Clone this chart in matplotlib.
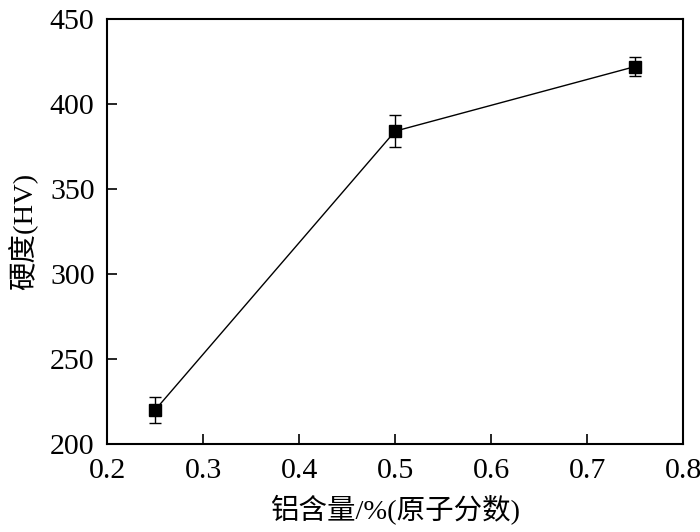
import matplotlib
matplotlib.use('Agg')
import matplotlib.pyplot as plt

plt.rcParams['font.family'] = ['Liberation Serif', 'Noto Sans CJK SC']
plt.rcParams['axes.unicode_minus'] = False

# data
al_content = [0.25, 0.50, 0.75]
hardness = [220, 384, 422]
hardness_err = [7.5, 9.5, 5.5]

x_ticks = [0.2, 0.3, 0.4, 0.5, 0.6, 0.7, 0.8]
y_ticks = [200, 250, 300, 350, 400, 450]

fig = plt.figure(figsize=(7, 5.32), dpi=100)
ax = fig.add_axes([0.153, 0.1654, 0.823, 0.799])

ax.errorbar(al_content, hardness, yerr=hardness_err, color='black',
            marker='s', markersize=8.5, linewidth=1.0, elinewidth=1.0,
            capsize=4.5, capthick=1.0)

ax.set_xlim(0.2, 0.8)
ax.set_ylim(200, 450)
ax.set_xticks(x_ticks)
ax.set_yticks(y_ticks)
ax.set_xticklabels([str(v) for v in x_ticks])
ax.set_yticklabels([str(v) for v in y_ticks])
ax.tick_params(direction='in', length=7, width=1.2, labelsize=21.5)
ax.tick_params(axis='x', pad=10)
ax.tick_params(axis='y', pad=9)
for sp in ax.spines.values():
    sp.set_linewidth(1.5)

ax.set_xlabel('铝含量/%(原子分数)', fontsize=20.5, labelpad=8)
ax.set_ylabel('硬度(HV)', fontsize=20.5, labelpad=8)

fig.savefig('out.png', dpi=100)
